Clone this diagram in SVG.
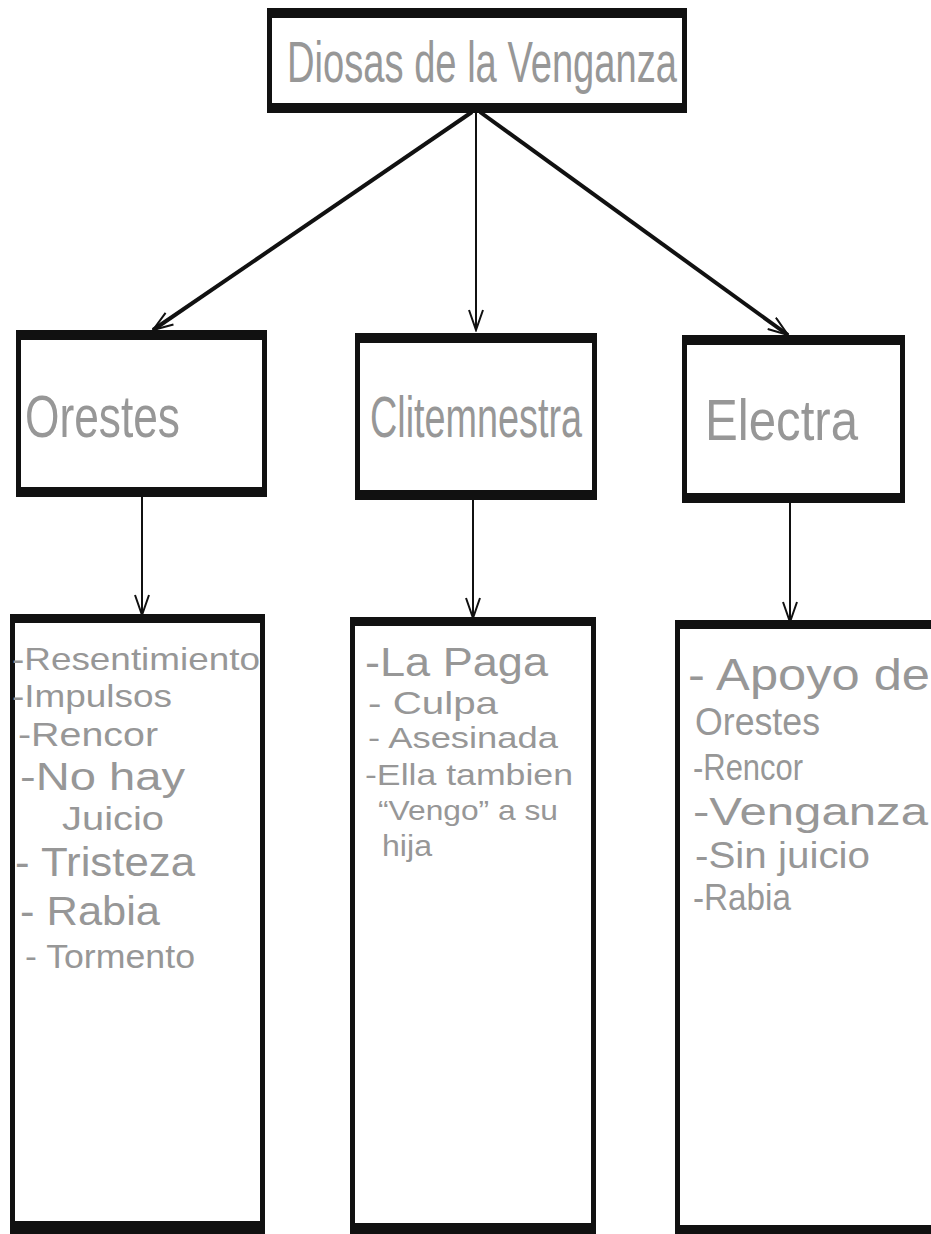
<svg xmlns="http://www.w3.org/2000/svg" width="931" height="1234" viewBox="0 0 931 1234">
<style>
.frame{fill:#111}
.inner{fill:#fff}
.hw{font-family:"Liberation Sans","Arimo",sans-serif;fill:#979797}
.thick{stroke:#111;stroke-width:4;fill:none}
.thin{stroke:#111;stroke-width:2;fill:none}
</style>
<defs>
<marker id="v" viewBox="0 0 24 16" refX="22" refY="8" markerWidth="24" markerHeight="16" markerUnits="userSpaceOnUse" orient="auto">
<path d="M2,1 L22,8 L2,15" fill="none" stroke="#111" stroke-width="2"/>
</marker>
</defs>
<rect width="931" height="1234" fill="#fff"/>

<g id="connectors">
<line class="thick" x1="472" y1="112" x2="153" y2="330" marker-end="url(#v)"/>
<line class="thin" x1="476" y1="112" x2="476" y2="330" marker-end="url(#v)"/>
<line class="thick" x1="480" y1="112" x2="788" y2="335" marker-end="url(#v)"/>
<line class="thin" x1="142" y1="496" x2="142" y2="615" marker-end="url(#v)"/>
<line class="thin" x1="473" y1="500" x2="473" y2="618" marker-end="url(#v)"/>
<line class="thin" x1="790" y1="503" x2="790" y2="622" marker-end="url(#v)"/>
</g>

<g id="top">
<rect class="frame" x="267" y="8" width="420" height="105"/>
<rect class="inner" x="272" y="18" width="410" height="85"/>
<text class="hw" x="287" y="82" font-size="58" textLength="390" lengthAdjust="spacingAndGlyphs">Diosas de la Venganza</text>
</g>

<g id="orestes">
<rect class="frame" x="16" y="330" width="251" height="167"/>
<rect class="inner" x="21" y="340" width="241" height="147"/>
<text class="hw" x="25" y="437" font-size="60" textLength="155" lengthAdjust="spacingAndGlyphs">Orestes</text>
</g>

<g id="clitemnestra">
<rect class="frame" x="355" y="333" width="242" height="167"/>
<rect class="inner" x="360" y="343" width="232" height="147"/>
<text class="hw" x="370" y="437" font-size="58" textLength="212" lengthAdjust="spacingAndGlyphs">Clitemnestra</text>
</g>

<g id="electra">
<rect class="frame" x="682" y="335" width="223" height="168"/>
<rect class="inner" x="687" y="345" width="213" height="148"/>
<text class="hw" x="705" y="440" font-size="58" textLength="153" lengthAdjust="spacingAndGlyphs">Electra</text>
</g>

<g id="orestes-list">
<rect class="frame" x="10" y="614" width="255" height="620"/>
<rect class="inner" x="15" y="623" width="245" height="598"/>
<text class="hw" x="12" y="670" font-size="32" textLength="248" lengthAdjust="spacingAndGlyphs">-Resentimiento</text>
<text class="hw" x="12" y="707" font-size="32" textLength="160" lengthAdjust="spacingAndGlyphs">-Impulsos</text>
<text class="hw" x="18" y="746" font-size="34" textLength="140" lengthAdjust="spacingAndGlyphs">-Rencor</text>
<text class="hw" x="20" y="790" font-size="38" textLength="165" lengthAdjust="spacingAndGlyphs">-No hay</text>
<text class="hw" x="62" y="830" font-size="34" textLength="102" lengthAdjust="spacingAndGlyphs">Juicio</text>
<text class="hw" x="15" y="876" font-size="40" textLength="180" lengthAdjust="spacingAndGlyphs">- Tristeza</text>
<text class="hw" x="20" y="925" font-size="40" textLength="140" lengthAdjust="spacingAndGlyphs">- Rabia</text>
<text class="hw" x="25" y="968" font-size="34" textLength="170" lengthAdjust="spacingAndGlyphs">- Tormento</text>
</g>

<g id="clitemnestra-list">
<rect class="frame" x="350" y="617" width="246" height="617"/>
<rect class="inner" x="355" y="626" width="236" height="597"/>
<text class="hw" x="365" y="676" font-size="40" textLength="183" lengthAdjust="spacingAndGlyphs">-La Paga</text>
<text class="hw" x="368" y="714" font-size="32" textLength="130" lengthAdjust="spacingAndGlyphs">- Culpa</text>
<text class="hw" x="368" y="748" font-size="29" textLength="190" lengthAdjust="spacingAndGlyphs">- Asesinada</text>
<text class="hw" x="365" y="785" font-size="30" textLength="208" lengthAdjust="spacingAndGlyphs">-Ella tambien</text>
<text class="hw" x="378" y="820" font-size="28" textLength="180" lengthAdjust="spacingAndGlyphs">“Vengo” a su</text>
<text class="hw" x="382" y="856" font-size="30" textLength="50" lengthAdjust="spacingAndGlyphs">hija</text>
</g>

<g id="electra-list">
<rect class="frame" x="675" y="620" width="262" height="614"/>
<rect class="inner" x="680" y="629" width="260" height="596"/>
<text class="hw" x="688" y="690" font-size="44" textLength="242" lengthAdjust="spacingAndGlyphs">- Apoyo de</text>
<text class="hw" x="695" y="735" font-size="38" textLength="125" lengthAdjust="spacingAndGlyphs">Orestes</text>
<text class="hw" x="693" y="780" font-size="36" textLength="110" lengthAdjust="spacingAndGlyphs">-Rencor</text>
<text class="hw" x="693" y="825" font-size="38" textLength="235" lengthAdjust="spacingAndGlyphs">-Venganza</text>
<text class="hw" x="695" y="868" font-size="36" textLength="175" lengthAdjust="spacingAndGlyphs">-Sin juicio</text>
<text class="hw" x="693" y="910" font-size="36" textLength="98" lengthAdjust="spacingAndGlyphs">-Rabia</text>
</g>
</svg>
